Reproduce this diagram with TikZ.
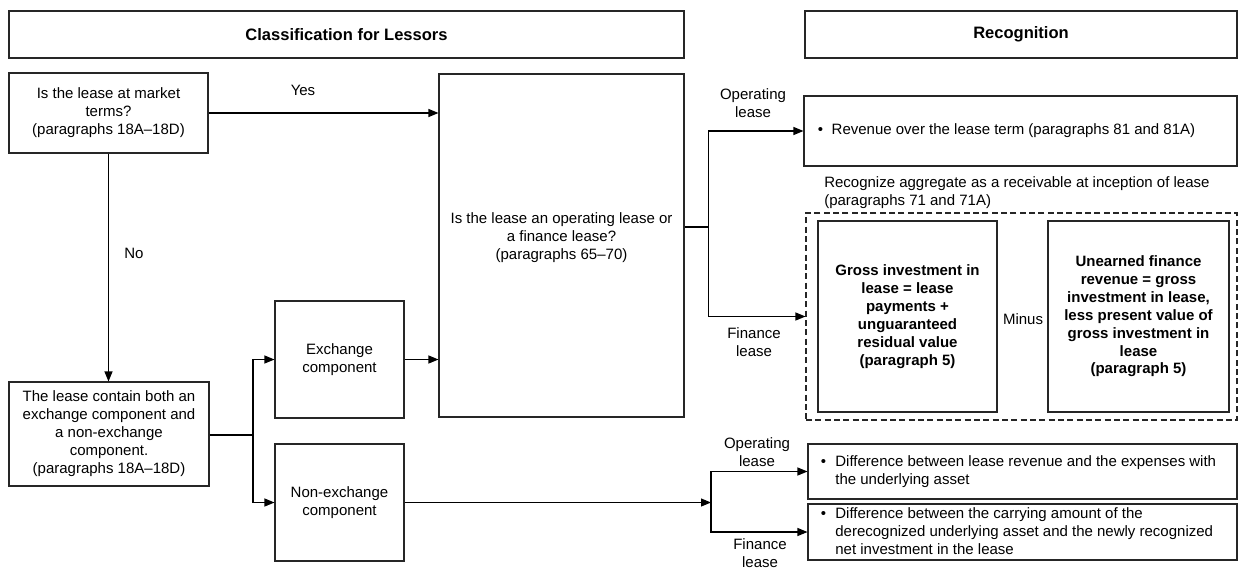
\documentclass[tikz,border=0pt]{standalone}
\usepackage{fontspec}
\setmainfont{Liberation Sans}
\usetikzlibrary{arrows.meta}
\newcommand\pxbox[6]{\node[#1, minimum width={(#5-#3)*0.75pt}, minimum height={(#6-#4)*0.75pt}] (#2) at ({(#3+#5)/2},{(#4+#6)/2})}
\begin{document}
\begin{tikzpicture}[x=0.75pt,y=-0.75pt,
  every node/.style={font=\fontsize{11.25}{13.5}\selectfont},
  box/.style={draw=black!85, line width=0.8pt, inner sep=0pt, align=center},
  hdr/.style={box, font=\fontsize{12.4}{14}\selectfont\bfseries},
  bbox/.style={box, font=\fontsize{11.25}{13.4}\selectfont\bfseries},
  dbox/.style={draw=black!85, line width=0.8pt, inner sep=0pt, dash pattern=on 4.5pt off 2.5pt},
  lbl/.style={align=center, inner sep=0pt},
  blt/.style={inner sep=0pt, anchor=west},
  arr/.style={line width=0.8pt, -{Triangle[length=7.5pt,width=6pt]}},
  ln/.style={line width=0.8pt},
]
\useasboundingbox (0,0) rectangle (1238,569);

% headers
\pxbox{hdr}{h1}{9}{11}{684}{58} {Classification for Lessors};
\pxbox{hdr}{h2}{805}{11}{1237}{58} {Recognition};

% left column
\pxbox{box}{a}{9}{73}{208}{153} {Is the lease at market\\terms?\\(paragraphs 18A–18D)};
\pxbox{box}{b}{9}{382}{209}{486} {The lease contain both an\\exchange component and\\a non-exchange\\component.\\(paragraphs 18A–18D)};
\pxbox{box}{e}{275}{301}{404}{418} {Exchange\\component};
\pxbox{box}{n}{275}{444}{404}{561} {Non-exchange\\component};

% classification question
\pxbox{box}{c}{439}{74}{684}{417} {};
\node[lbl] (ct) at (561.5,238) {Is the lease an operating lease or\\a finance lease?\\(paragraphs 65–70)};

% recognition
\pxbox{box}{r}{804}{96}{1237}{166} {};
\node[blt] (rt) at (817.5,131) {\begin{tabular}{@{}l@{\hspace{6.5pt}}l@{}}•&Revenue over the lease term (paragraphs 81 and 81A)\end{tabular}};

\node[inner sep=0pt, anchor=west, align=left] (rec) at (824,192.5) {Recognize aggregate as a receivable at inception of lease\\(paragraphs 71 and 71A)};

\pxbox{dbox}{d}{806}{213}{1237}{420} {};
\pxbox{bbox}{g}{818}{221}{997}{412} {Gross investment in\\lease = lease\\payments +\\unguaranteed\\residual value\\(paragraph 5)};
\pxbox{bbox}{u}{1048}{221}{1229}{412} {Unearned finance\\revenue = gross\\investment in lease,\\less present value of\\gross investment in\\lease\\(paragraph 5)};
\node[lbl] (minus) at (1023,319) {Minus};

\pxbox{box}{op2}{808}{444}{1237}{499} {};
\node[blt] (op2t) at (820.5,472) {\begin{tabular}{@{}l@{\hspace{7pt}}l@{}}•&Difference between lease revenue and the expenses with\\&the underlying asset\end{tabular}};
\pxbox{box}{fi2}{808}{504}{1237}{560} {};
\node[blt] (fi2t) at (820.5,533) {\begin{tabular}{@{}l@{\hspace{7pt}}l@{}}•&Difference between the carrying amount of the\\&derecognized underlying asset and the newly recognized\\&net investment in the lease\end{tabular}};

% labels
\node[lbl] (yes) at (303,90) {Yes};
\node[lbl] (no) at (134,253) {No};
\node[lbl] (l1) at (753,103) {Operating\\lease};
\node[lbl] (l2) at (754,342) {Finance\\lease};
\node[lbl] (l3) at (757,452) {Operating\\lease};
\node[lbl] (l4) at (760,553) {Finance\\lease};

% connectors
\draw[arr] (a.east) -- (a.east -| c.west);
\draw[arr] (a.south) -- (a.south |- b.north);
\coordinate (bj) at (253,435);
\draw[ln] (b.east |- bj) -- (bj);
\draw[arr] (bj) |- (e.west);
\draw[arr] (bj) |- (n.west);
\draw[arr] (e.east) -- (e.east -| c.west);
\coordinate (cj) at (708.5,227);
\draw[ln] (c.east |- cj) -- (cj);
\draw[arr] (cj) |- (r.west);
\draw[arr] (cj) |- (d.west);
\coordinate (nj) at (711,502.5);
\draw[arr] (n.east) -- (nj);
\draw[arr] (nj) |- (op2.west);
\draw[arr] (nj) |- (fi2.west);
\end{tikzpicture}
\end{document}
